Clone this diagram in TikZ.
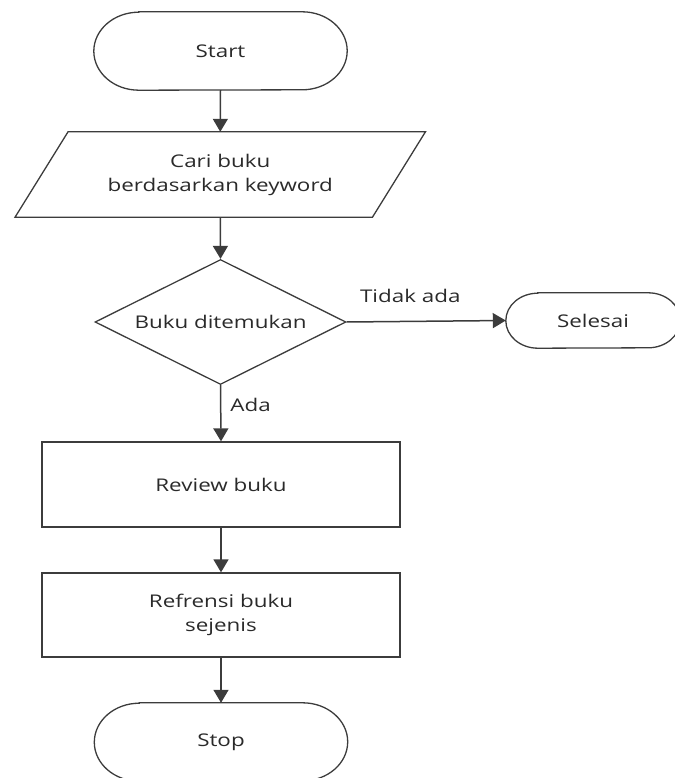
\documentclass[tikz,border=0pt]{standalone}
\usepackage{fontspec}
\setmainfont[FakeStretch=1.28]{Open Sans}
\usetikzlibrary{arrows.meta,shapes.geometric}

\definecolor{inkline}{HTML}{3C3C3C}
\definecolor{inktext}{HTML}{2A2A2A}

\tikzset{
  x=1pt, y=1pt,
  shapeline/.style={draw=inkline, line width=1.3pt},
  boxtext/.style={inner sep=0pt, text=inktext, align=center,
    font=\fontsize{17.5}{24}\selectfont},
  terminal/.style={boxtext, minimum width=253pt, minimum height=78pt},
  iobox/.style={boxtext, minimum width=357pt, minimum height=85pt},
  procbox/.style={boxtext, shapeline, minimum width=358pt, minimum height=85pt},
  decision/.style={boxtext, shapeline, shape=diamond, aspect=2,
    minimum width=251pt, minimum height=125pt},
  flow/.style={draw=inkline, line width=1.5pt,
    -{Triangle[length=13pt,width=15pt]}},
  flowlabel/.style={inner sep=0pt, text=inktext,
    font=\fontsize{17.5}{24}\selectfont}
}

% outline of a terminal: straight top and bottom, elliptic ends
\newcommand\stadiumoutline[3]{%
  \draw[shapeline] ([xshift=#2pt]#1.north west) -- ([xshift=-#2pt]#1.north east)
    arc[start angle=90, end angle=-90, x radius=#2pt, y radius=#3pt]
    -- ([xshift=#2pt]#1.south west)
    arc[start angle=270, end angle=90, x radius=#2pt, y radius=#3pt] -- cycle;}

\begin{document}
\begin{tikzpicture}
\useasboundingbox (0,0) rectangle (674,-778);

% nodes
\node[terminal] (start) at (220.5,-51) {Start};
\stadiumoutline{start}{45}{39}

\node[iobox] (cari) at (220.25,-174.5) {Cari buku\\berdasarkan keyword};
\draw[shapeline] ([xshift=26.5pt]cari.north west) -- ([xshift=26.5pt]cari.north east)
  -- ([xshift=-26.5pt]cari.south east) -- ([xshift=-26.5pt]cari.south west) -- cycle;

\node[decision] (cek) at (220.5,-322) {Buku ditemukan};

\node[boxtext, minimum width=174pt, minimum height=55pt] (selesai) at (593,-320.5) {Selesai};
\stadiumoutline{selesai}{32}{27.5}

\node[procbox] (review) at (221,-484.5) {Review buku};

\node[procbox, minimum height=84pt] (refrensi) at (221,-615) {Refrensi buku\\sejenis};

\node[terminal] (stop) at (221,-742) {Stop};
\stadiumoutline{stop}{45}{39}

% connectors
\draw[flow] (start.south) -- (cari.north);
\draw[flow] (cari.south) -- (cek.north);
\draw[flow] (cek.east) -- node[flowlabel, pos=0.4, anchor=base, yshift=19pt] {Tidak ada} (selesai.west);
\draw[flow] (cek.south) -- node[flowlabel, pos=0.35, anchor=west, xshift=9pt] {Ada} (review.north);
\draw[flow] (review.south) -- (refrensi.north);
\draw[flow] (refrensi.south) -- (stop.north);
\end{tikzpicture}
\end{document}
